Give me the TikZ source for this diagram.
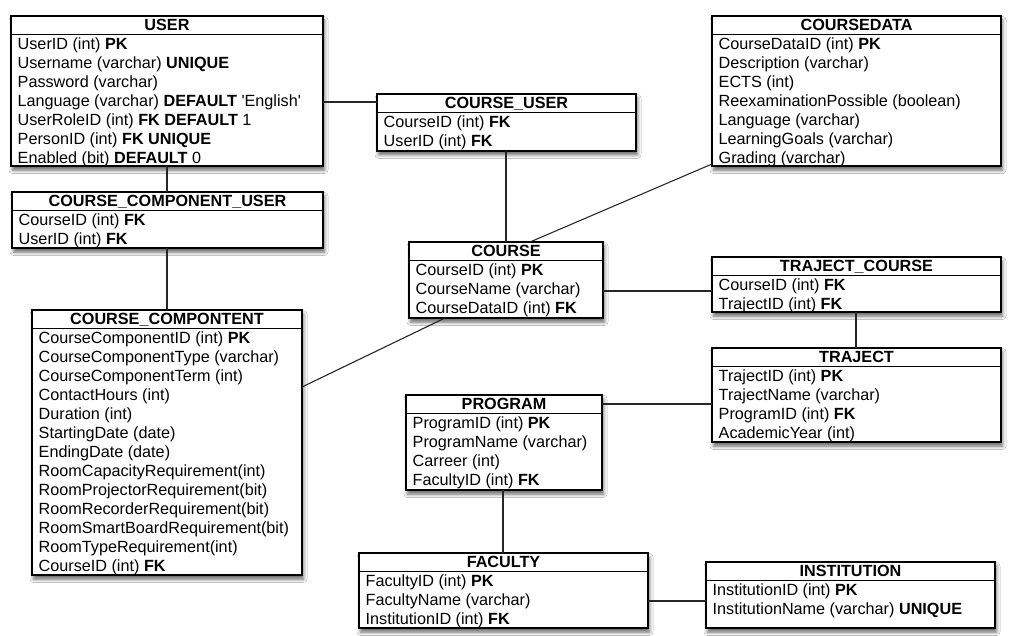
\documentclass[tikz,border=0pt]{standalone}
\usepackage{fontspec}
\setmainfont{Liberation Sans}
\usetikzlibrary{shadows.blur}
\tikzset{
  tbl/.style={draw=black, line width=1.3pt, fill=white, inner sep=0pt, outer sep=0pt,
    blur shadow={shadow xshift=1.5pt, shadow yshift=-4pt, shadow blur radius=3.5pt, shadow opacity=60}},
  tblline/.style={line width=1.1pt},
  ttl/.style={font=\fontsize{16.2}{19}\selectfont\bfseries, inner sep=0pt},
  rowtxt/.style={font=\fontsize{16.2}{19}\selectfont, inner sep=0pt},
  conn/.style={line width=1.1pt, draw=black!85}
}
\newcommand\ertbl[7]{%
  \node[tbl, minimum width=#4pt, minimum height=#5pt, anchor=north west] (#1) at (#2,#3) {};
  \draw[tblline] ([yshift=-18.5pt]#1.north west) -- ([yshift=-18.5pt]#1.north east);
  \node[ttl, anchor=base] (#1-t) at ([yshift=-14.5pt]#1.north) {#6};
  \foreach \rowtext [count=\i] in {#7} {
    \node[rowtxt, anchor=base west] (#1-r\i) at ([xshift=6.5pt, yshift={-14.5pt-\i*19pt}]#1.north west) {\rowtext};
  }%
}
\begin{document}
\begin{tikzpicture}[x=1pt, y=-1pt]
\useasboundingbox[fill=white] (0,0) rectangle (1009,636);

\ertbl{user}{11}{16}{312}{150}{USER}{%
  UserID (int) \textbf{PK},
  Username (varchar) \textbf{UNIQUE},
  Password (varchar),
  Language (varchar) \textbf{DEFAULT} \textquotesingle English\textquotesingle,
  UserRoleID (int) \textbf{FK DEFAULT} 1,
  PersonID (int) \textbf{FK UNIQUE},
  Enabled (bit) \textbf{DEFAULT} 0}

\ertbl{ccu}{12}{192}{311}{56}{COURSE\_COMPONENT\_USER}{%
  CourseID (int) \textbf{FK},
  UserID (int) \textbf{FK}}

\ertbl{cu}{377}{94}{259}{57}{COURSE\_USER}{%
  CourseID (int) \textbf{FK},
  UserID (int) \textbf{FK}}

\ertbl{course}{409}{242}{194}{76}{COURSE}{%
  CourseID (int) \textbf{PK},
  CourseName (varchar),
  CourseDataID (int) \textbf{FK}}

\ertbl{cd}{712}{16}{289}{150}{COURSEDATA}{%
  CourseDataID (int) \textbf{PK},
  Description (varchar),
  ECTS (int),
  ReexaminationPossible (boolean),
  Language (varchar),
  LearningGoals (varchar),
  Grading (varchar)}

\ertbl{tc}{712}{257}{289}{55}{TRAJECT\_COURSE}{%
  CourseID (int) \textbf{FK},
  TrajectID (int) \textbf{FK}}

\ertbl{tr}{712}{348}{289}{94}{TRAJECT}{%
  TrajectID (int) \textbf{PK},
  TrajectName (varchar),
  ProgramID (int) \textbf{FK},
  AcademicYear (int)}

\ertbl{prog}{406}{395}{196}{95}{PROGRAM}{%
  ProgramID (int) \textbf{PK},
  ProgramName (varchar),
  Carreer (int),
  FacultyID (int) \textbf{FK}}

\ertbl{fac}{359}{553}{289}{75}{FACULTY}{%
  FacultyID (int) \textbf{PK},
  FacultyName (varchar),
  InstitutionID (int) \textbf{FK}}

\ertbl{inst}{706}{562}{289}{66}{INSTITUTION}{%
  InstitutionID (int) \textbf{PK},
  InstitutionName (varchar) \textbf{UNIQUE}}

\ertbl{cc}{32}{310}{270}{265}{COURSE\_COMPONTENT}{%
  CourseComponentID (int) \textbf{PK},
  CourseComponentType (varchar),
  CourseComponentTerm (int),
  ContactHours (int),
  Duration (int),
  StartingDate (date),
  EndingDate (date),
  RoomCapacityRequirement(int),
  RoomProjectorRequirement(bit),
  RoomRecorderRequirement(bit),
  RoomSmartBoardRequirement(bit),
  RoomTypeRequirement(int),
  CourseID (int) \textbf{FK}}

% connectors
\draw[conn] ([yshift=-86pt]user.north east) -- ([yshift=-8pt]cu.north west);
\draw[conn] ([xshift=156pt]user.south west) -- ([xshift=155pt]ccu.north west);
\draw[conn] ([xshift=155pt]ccu.south west) -- ([xshift=135pt]cc.north west);
\draw[conn] ([xshift=129pt]cu.south west) -- ([xshift=97pt]course.north west);
\draw[conn] ([xshift=121pt]course.north west) -- ([yshift=-148pt]cd.north west);
\draw[conn] ([yshift=-49pt]course.north east) -- ([yshift=-34pt]tc.north west);
\draw[conn] ([xshift=144pt]tc.south west) -- ([xshift=144pt]tr.north west);
\draw[conn] ([yshift=-56pt]tr.north west) -- ([yshift=-9pt]prog.north east);
\draw[conn] ([xshift=97pt]prog.south west) -- ([xshift=144pt]fac.north west);
\draw[conn] ([yshift=-48pt]fac.north east) -- ([yshift=-39pt]inst.north west);
\draw[conn] ([yshift=-77pt]cc.north east) -- ([xshift=36pt]course.south west);
\end{tikzpicture}
\end{document}
